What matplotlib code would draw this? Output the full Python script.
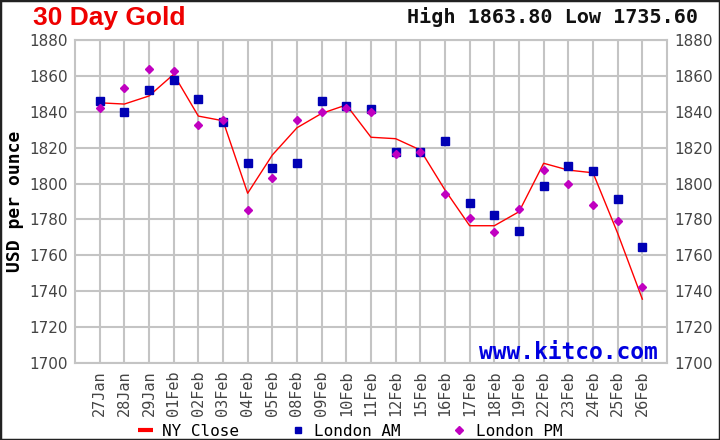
import matplotlib
matplotlib.use("Agg")
import matplotlib.pyplot as plt
from matplotlib.patches import Rectangle
from matplotlib.lines import Line2D

dates = ["27Jan", "28Jan", "29Jan", "01Feb", "02Feb", "03Feb", "04Feb", "05Feb",
         "08Feb", "09Feb", "10Feb", "11Feb", "12Feb", "15Feb", "16Feb", "17Feb",
         "18Feb", "19Feb", "22Feb", "23Feb", "24Feb", "25Feb", "26Feb"]

ny_close = [1845.0, 1844.3, 1848.8, 1860.9, 1837.6, 1835.0, 1794.6, 1815.9,
            1831.1, 1839.1, 1843.8, 1825.8, 1825.0, 1818.7, 1796.4, 1776.5,
            1776.5, 1784.3, 1811.3, 1807.5, 1806.0, 1772.3, 1735.6]

london_am = [1846.0, 1839.7, 1852.3, 1857.5, 1847.0, 1834.1, 1811.3, 1808.7,
             1811.3, 1846.0, 1843.4, 1841.5, 1817.4, 1817.4, 1823.7, 1789.0,
             1782.6, 1773.7, 1798.6, 1809.6, 1806.8, 1791.6, 1764.8]

london_pm = [1842.3, 1853.0, 1863.8, 1862.7, 1832.6, 1835.4, 1785.3, 1803.3,
             1835.4, 1839.7, 1842.3, 1839.7, 1816.5, 1817.4, 1794.2, 1780.8,
             1773.0, 1786.0, 1807.7, 1799.6, 1788.0, 1779.1, 1742.5]

y_ticks = list(range(1700, 1881, 20))

MONO = "DejaVu Sans Mono"
GRID = "#c4c4c4"
TICK = "#444444"

fig = plt.figure(figsize=(7.2, 4.4), dpi=100)
ax = fig.add_axes([75 / 720, 77 / 440, 592 / 720, 323 / 440])

x = list(range(len(dates)))
ax.plot(x, ny_close, color="#ff0000", lw=1.0, zorder=3)
ax.plot(x, london_am, ls="none", marker="s", ms=5.5, color="#0000b4", zorder=4)
ax.plot(x, london_pm, ls="none", marker="D", ms=4.3, color="#c000c0", zorder=5)

ax.set_xlim(-1, len(dates))
ax.set_ylim(1700, 1880)
ax.set_xticks(x)
ax.set_xticklabels(dates, rotation=90, family=MONO, fontsize=11, color=TICK)
ax.set_yticks(y_ticks)
ax.set_yticklabels([str(v) for v in y_ticks], fontsize=11, color=TICK)
ax.tick_params(axis="both", length=0, pad=5)
ax.tick_params(axis="y", labelright=True, right=True)
ax.grid(True, color=GRID, lw=1.5, zorder=0)
ax.set_axisbelow(True)
for s in ax.spines.values():
    s.set_color(GRID)
    s.set_linewidth(1.5)

ax.set_ylabel("USD per ounce", family=MONO, fontweight="bold", fontsize=13, labelpad=4)

ax.text(0.985, 0.012, "www.kitco.com", transform=ax.transAxes, ha="right", va="baseline",
        family=MONO, fontweight="bold", fontsize=16.5, color="#0000e0")

fig.text(33 / 720, 1 - 18 / 440, "30 Day Gold", ha="left", va="center",
         family=["Liberation Sans Narrow", "Liberation Sans"], fontweight="bold",
         fontsize=19, color="#ee0000")
fig.text(698 / 720, 1 - 17 / 440, "High 1863.80 Low 1735.60", ha="right", va="center",
         family=MONO, fontweight="bold", fontsize=14.5, color="#111111")

handles = [
    Line2D([], [], color="#ff0000", lw=3, solid_capstyle="butt"),
    Line2D([], [], ls="none", marker="s", ms=4.5, color="#0000b4"),
    Line2D([], [], ls="none", marker="D", ms=4.5, color="#c000c0"),
]
fig.legend(handles, ["NY Close", "London AM", "London PM"], loc="lower center",
           bbox_to_anchor=(0.487, -0.03), ncol=3, frameon=False, handlelength=0.9,
           handletextpad=0.6, columnspacing=3.2, prop={"family": MONO, "size": 11.5})

fig.patches.append(Rectangle((0, 0), 1, 1, transform=fig.transFigure, fill=False,
                             edgecolor="#222222", lw=2.5))

fig.savefig("out.png", dpi=100)
